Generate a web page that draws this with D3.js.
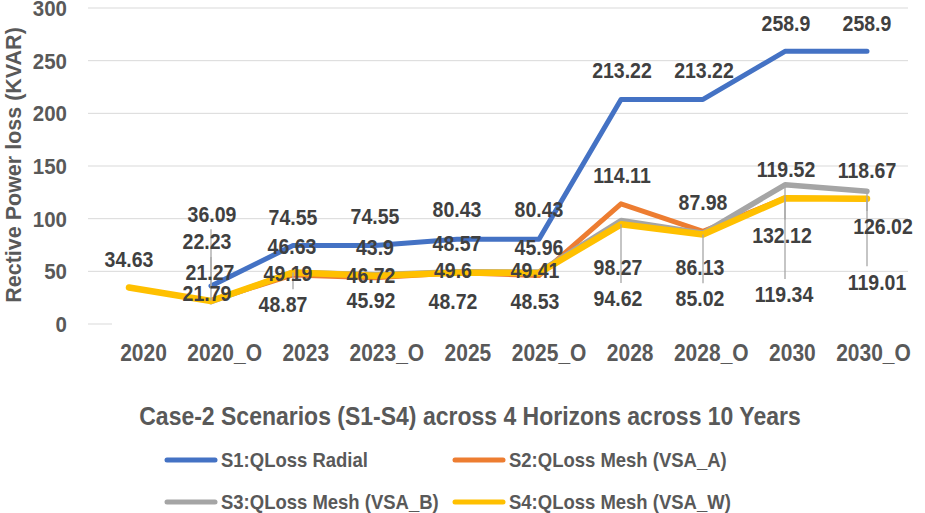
<!DOCTYPE html>
<html>
<head>
<meta charset="utf-8">
<script src="https://cdn.jsdelivr.net/npm/d3@7"></script>
<style>
  body { margin: 0; background: #fff; }
  text { font-family: "Liberation Sans", Arial, sans-serif; font-weight: bold; }
</style>
</head>
<body>
<svg id="chart" width="925" height="513"></svg>
<script>
const categories = ["2020", "2020_O", "2023", "2023_O", "2025", "2025_O", "2028", "2028_O", "2030", "2030_O"];
const s1Radial = [null, 36.09, 74.55, 74.55, 80.43, 80.43, 213.22, 213.22, 258.9, 258.9];
const s2MeshA = [null, 22.23, 46.63, 43.9, 48.57, 45.96, 114.11, 87.98, 119.52, 118.67];
const s3MeshB = [null, 21.27, 49.19, 46.72, 49.6, 49.41, 98.27, 86.13, 132.12, 126.02];
const s4MeshW = [34.63, 21.79, 48.87, 45.92, 48.72, 48.53, 94.62, 85.02, 119.34, 119.01];
const yTicks = [0, 50, 100, 150, 200, 250, 300];
const seriesNames = ["S1:QLoss Radial", "S2:QLoss Mesh (VSA_A)", "S3:QLoss Mesh (VSA_B)", "S4:QLoss Mesh (VSA_W)"];

// styling / label placement (kept apart from the values)
const seriesColors = ["#4472C4", "#ED7D31", "#A5A5A5", "#FFC000"];
const seriesWidths = [5, 5, 5.5, 6.5];
// [dx, dy, leader] for each point's label, relative to the point
const labelOffsets = [
  [null, [1, -72, true], [0, -28], [0, -29], [0, -30], [0, -30], [1, -29], [1, -29], [1, -28], [0, -28]],
  [null, [-4, -59, true], [-1, -29], [0, -31], [0, -30], [0, -28], [1, -29], [0, -29], [1, -29], [0, -29]],
  [null, [-1, -29], [-5, 1], [-4, 0], [-4, -2], [-4, -2], [-3, 47], [-3, 34], [-3, 50, true], [16, 35, true]],
  [[0, -28], [-4, -8], [-10, 32, true], [-4, 25], [-4, 28], [-4, 28], [-3, 74, true], [-3, 64, true], [-1, 96, true], [10, 83, true]]
];
const textStretch = 1.12; // reference glyphs are a bit taller than wide

const allSeries = [s1Radial, s2MeshA, s3MeshB, s4MeshW];

const svg = d3.select("#chart");
const plot = { left: 88, right: 908, top: 8, bottom: 324 };

const x = d3.scaleBand().domain(categories).range([plot.left, plot.right]).padding(0);
const xLabel = d3.scalePoint().domain(categories).range([143, 873]);
const y = d3.scaleLinear().domain([0, 300]).range([plot.bottom, plot.top]);
const cx = (c) => x(c) + x.bandwidth() / 2;

// stretch text vertically about a given y
function stretch(sel, cy) {
  sel.attr("transform", function () {
    const c = cy(this);
    return `translate(0,${c}) scale(1,${textStretch}) translate(0,${-c})`;
  });
}

// gridlines
svg.append("g")
  .selectAll("line")
  .data(yTicks)
  .join("line")
  .attr("x1", plot.left)
  .attr("x2", (d) => (d === 0 ? plot.left + 24 : plot.right))
  .attr("y1", (d) => y(d))
  .attr("y2", (d) => y(d))
  .attr("stroke", "#d9d9d9")
  .attr("stroke-width", 1);

// y axis labels
const yAxis = svg.append("g")
  .attr("transform", `translate(${plot.left},0)`)
  .call(d3.axisLeft(y).tickValues(yTicks).tickSize(0).tickPadding(21));
yAxis.select(".domain").remove();
yAxis.selectAll("text")
  .attr("fill", "#595959")
  .style("font-size", "20.5px")
  .style("font-family", "'Liberation Sans', Arial, sans-serif")
  .style("font-weight", "bold")
  .call(stretch, () => 0);

// x axis labels
const xAxis = svg.append("g")
  .attr("transform", `translate(0,${plot.bottom})`)
  .call(d3.axisBottom(xLabel).tickSize(0).tickPadding(20));
xAxis.select(".domain").remove();
xAxis.selectAll("text")
  .attr("fill", "#595959")
  .style("font-size", "21px")
  .style("font-family", "'Liberation Sans', Arial, sans-serif")
  .style("font-weight", "bold")
  .call(stretch, () => 20);

// lines
const line = d3.line()
  .defined((d) => d.v != null)
  .x((d) => cx(d.c))
  .y((d) => y(d.v));

allSeries.forEach((vals, si) => {
  const pts = vals.map((v, i) => ({ c: categories[i], v }));
  svg.append("path")
    .datum(pts)
    .attr("fill", "none")
    .attr("stroke", seriesColors[si])
    .attr("stroke-width", seriesWidths[si])
    .attr("stroke-linejoin", "round")
    .attr("stroke-linecap", "round")
    .attr("d", line);
});

// data labels
const leaderLayer = svg.append("g");
const labelLayer = svg.append("g");
allSeries.forEach((vals, si) => {
  vals.forEach((v, i) => {
    if (v == null) return;
    const off = labelOffsets[si][i] || [0, -28];
    const px = cx(categories[i]);
    const py = y(v);
    const ly = py + off[1];
    const t = labelLayer.append("text")
      .attr("x", px + off[0])
      .attr("y", ly)
      .attr("dy", "0.36em")
      .attr("text-anchor", "middle")
      .attr("fill", "#404040")
      .style("font-size", "19.5px")
      .text(v);
    if (off[2]) {
      const b = t.node().getBBox();
      const pad = 3;
      const h = b.height * textStretch;
      const top = ly - h / 2;
      const tx = Math.max(b.x - pad, Math.min(px, b.x + b.width + pad));
      const ty = Math.max(top - pad, Math.min(py, top + h + pad));
      leaderLayer.append("line")
        .attr("x1", px).attr("y1", py)
        .attr("x2", tx).attr("y2", ty)
        .attr("stroke", "#a6a6a6")
        .attr("stroke-width", 1.3);
    }
    t.call(stretch, () => ly);
  });
});

// axis titles
svg.append("text")
  .attr("transform", "translate(21,165) rotate(-90)")
  .attr("text-anchor", "middle")
  .attr("fill", "#595959")
  .style("font-size", "21.5px")
  .text("Rective Power loss (KVAR)");

svg.append("text")
  .attr("x", 470)
  .attr("y", 424)
  .attr("text-anchor", "middle")
  .attr("fill", "#595959")
  .style("font-size", "23px")
  .text("Case-2 Scenarios (S1-S4) across 4 Horizons across 10 Years")
  .call(stretch, () => 416);

// legend
const legend = svg.append("g");
seriesNames.forEach((name, i) => {
  const lx = i % 2 === 0 ? 167 : 455;
  const ly = i < 2 ? 460 : 502;
  legend.append("line")
    .attr("x1", lx).attr("x2", lx + 48)
    .attr("y1", ly).attr("y2", ly)
    .attr("stroke", seriesColors[i])
    .attr("stroke-width", 5)
    .attr("stroke-linecap", "round");
  legend.append("text")
    .attr("x", lx + 54)
    .attr("y", ly)
    .attr("dy", "0.36em")
    .attr("fill", "#595959")
    .style("font-size", "18.5px")
    .text(name)
    .call(stretch, () => ly);
});
</script>
</body>
</html>
